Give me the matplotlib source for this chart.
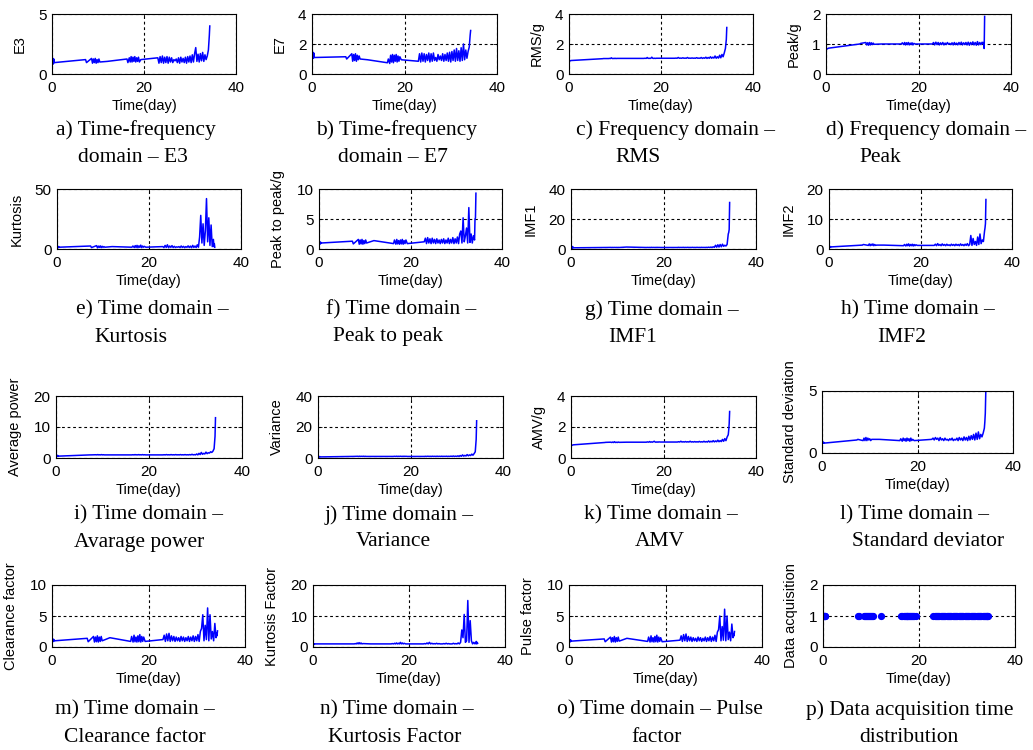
import numpy as np
import matplotlib
matplotlib.use("Agg")
import matplotlib.pyplot as plt

# -----------------------------
# Données
# -----------------------------
# instants d'acquisition (jours) : 6 + 12 + 1 + 15 + 44 + 4 points
t_day = [0.0, 0.1, 0.2, 0.3, 0.4, 0.5,
         7.3, 7.5, 8.6, 8.8, 9.0, 9.2, 9.4, 9.6, 9.8, 10.0, 10.2, 10.4,
         12.0,
         16.3, 16.5, 16.8, 17.0, 17.2, 17.4, 17.6, 17.8, 18.0, 18.2, 18.4, 18.6, 18.8, 19.0, 19.3,
         23.0, 23.25, 23.5, 23.75, 24.0, 24.25, 24.5, 24.75, 25.0, 25.25, 25.5, 25.75,
         26.0, 26.25, 26.5, 26.75, 27.0, 27.25, 27.5, 27.75, 28.0, 28.25, 28.5, 28.75,
         29.0, 29.25, 29.5, 29.75, 30.0, 30.25, 30.5, 30.75, 31.0, 31.25, 31.5, 31.75,
         32.0, 32.25, 32.5, 32.75, 33.0, 33.25, 33.5, 33.75,
         34.0, 34.1, 34.2, 34.3]

e3 = [1.2, 0.8, 1.3, 0.85, 1.25, 0.95,
      1.2, 0.95, 1.3, 0.9, 1.25, 0.95, 1.3, 0.9, 1.2, 0.95, 1.25, 1.0,
      1.05,
      1.25, 0.95, 1.35, 1.0, 1.45, 1.0, 1.4, 1.05, 1.45, 1.0, 1.35, 1.05, 1.4, 1.0, 1.2,
      1.35, 0.9, 1.45, 0.95, 1.5, 0.9, 1.4, 0.95, 1.45, 0.9, 1.4, 1.0, 1.35, 0.95, 1.2, 1.1,
      1.25, 0.95, 1.35, 0.9, 1.4, 1.0, 1.3, 0.95, 1.4, 0.9, 1.45, 1.0, 1.5, 0.95, 1.6, 1.0,
      1.7, 2.2, 1.05, 1.65, 1.0, 1.7, 1.1, 1.8, 1.05, 1.6, 1.2, 1.5,
      2.0, 2.6, 3.2, 4.0]

e7 = [1.5, 1.0, 1.45, 1.05, 1.4, 1.1,
      1.15, 1.0, 1.35, 0.85, 1.3, 0.9, 1.35, 0.85, 1.25, 0.95, 1.2, 1.0,
      0.95,
      0.75, 1.0, 0.7, 1.25, 0.8, 1.3, 0.75, 1.25, 0.85, 1.3, 0.8, 1.2, 0.85, 1.15, 0.95,
      0.85, 1.35, 0.8, 1.4, 0.85, 1.35, 0.8, 1.3, 0.9, 1.4, 0.8, 1.35, 0.85, 1.4, 0.9, 1.1,
      0.85, 1.3, 0.95, 1.2, 0.9, 1.35, 0.85, 1.3, 0.9, 1.4, 0.85, 1.45, 0.8, 1.5, 0.9, 1.6,
      0.85, 1.7, 0.9, 1.55, 0.85, 1.75, 0.9, 2.0, 0.95, 1.6, 1.05, 1.5,
      1.8, 2.2, 2.6, 2.9]

rms = [0.85, 0.86, 0.87, 0.88, 0.9, 0.9,
       1.02, 1.03, 1.03, 1.04, 1.03, 1.08, 1.03, 1.04, 1.03, 1.05, 1.03, 1.04,
       1.04,
       1.04, 1.05, 1.04, 1.1, 1.04, 1.05, 1.04, 1.05, 1.12, 1.05, 1.04, 1.05, 1.04, 1.05, 1.05,
       1.05, 1.06, 1.05, 1.1, 1.05, 1.06, 1.05, 1.08, 1.05, 1.06, 1.05, 1.1, 1.05, 1.06, 1.05, 1.07,
       1.05, 1.06, 1.05, 1.09, 1.05, 1.06, 1.05, 1.1, 1.04, 1.08, 1.05, 1.12, 1.04, 1.1, 1.05, 1.15,
       1.05, 1.12, 1.06, 1.2, 1.05, 1.15, 1.06, 1.25, 1.08, 1.3, 1.15, 1.4,
       1.7, 2.0, 2.3, 3.1]

peak = [0.8, 0.82, 0.83, 0.84, 0.85, 0.86,
        1.0, 1.02, 1.05, 0.97, 1.04, 0.96, 1.05, 0.97, 1.04, 0.98, 1.03, 0.99,
        1.0,
        1.0, 1.04, 0.98, 1.05, 0.97, 1.04, 0.98, 1.05, 0.97, 1.03, 0.98, 1.04, 0.97, 1.02, 1.0,
        1.0, 1.05, 0.97, 1.06, 0.98, 1.05, 0.97, 1.04, 0.98, 1.05, 0.97, 1.03, 0.98, 1.05, 0.99, 1.02,
        0.98, 1.04, 0.97, 1.05, 0.98, 1.03, 0.97, 1.05, 0.98, 1.06, 0.97, 1.04, 0.98, 1.05, 0.97, 1.06,
        0.96, 1.05, 0.98, 1.07, 0.97, 1.05, 0.96, 1.08, 0.97, 1.05, 0.98, 1.06,
        1.0, 1.05, 0.85, 1.92]

kurtosis = [2.5, 1.0, 2.2, 1.2, 2.0, 1.5,
            2.5, 1.2, 2.8, 1.0, 2.4, 1.3, 2.6, 1.1, 2.3, 1.4, 2.0, 1.5,
            2.0,
            1.5, 2.5, 1.2, 2.8, 1.3, 3.0, 1.1, 2.6, 1.4, 3.2, 1.2, 2.5, 1.5, 2.2, 1.5,
            2.0, 1.2, 3.0, 1.3, 3.5, 1.1, 2.5, 1.4, 2.8, 1.2, 2.2, 1.3, 1.8, 1.5, 2.0, 1.2,
            2.5, 1.3, 2.2, 1.1, 2.0, 1.4, 2.6, 1.2, 2.4, 1.1, 3.0, 1.3, 2.5, 1.2, 3.5, 1.5,
            10.0, 28.0, 5.0, 21.0, 3.0, 15.0, 42.0, 6.0, 26.0, 3.0, 20.0, 2.0,
            8.0, 2.0, 4.5, 1.5]

p2p = [1.3, 0.8, 1.2, 0.85, 1.1, 1.0,
       1.3, 0.85, 1.6, 0.8, 1.5, 0.85, 1.6, 0.8, 1.4, 0.9, 1.5, 1.0,
       1.4,
       0.9, 1.5, 0.8, 1.6, 0.85, 1.4, 0.8, 1.5, 0.85, 1.6, 0.8, 1.4, 0.9, 1.5, 0.9,
       1.2, 1.8, 0.9, 1.9, 1.0, 1.7, 0.9, 1.8, 1.0, 1.6, 0.9, 1.7, 1.0, 1.5, 0.9, 1.6,
       1.0, 1.7, 0.9, 1.5, 1.0, 1.8, 0.9, 1.6, 1.0, 1.9, 0.9, 1.7, 1.0, 2.0, 0.9, 2.5,
       3.0, 1.0, 5.2, 1.2, 2.2, 3.5, 1.0, 6.9, 1.1, 2.5, 1.0, 2.2,
       1.5, 5.0, 5.2, 9.3]

imf1 = [2.0, 0.5, 1.8, 0.6, 1.5, 0.8,
        1.0, 1.0, 1.05, 1.0, 1.05, 1.0, 1.05, 1.0, 1.05, 1.0, 1.05, 1.0,
        1.3,
        1.0, 1.05, 1.0, 1.05, 1.0, 1.1, 1.0, 1.05, 1.0, 1.05, 1.0, 1.1, 1.0, 1.05, 1.0,
        1.0, 1.1, 1.0, 1.05, 1.0, 1.1, 1.0, 1.05, 1.0, 1.1, 1.0, 1.05, 1.0, 1.1, 1.0, 1.05,
        1.0, 1.1, 1.0, 1.05, 1.0, 1.1, 1.0, 1.05, 1.0, 1.1, 1.0, 1.2, 1.0, 1.3, 1.0, 1.5,
        1.1, 2.5, 1.2, 2.8, 1.3, 3.0, 1.5, 3.2, 1.8, 2.5, 2.0, 3.0,
        10.0, 11.0, 13.0, 31.0]

imf2 = [0.9, 0.5, 0.85, 0.6, 0.8, 0.7,
        1.3, 1.5, 1.2, 1.7, 1.1, 1.6, 1.2, 1.7, 1.1, 1.5, 1.2, 1.3,
        1.3,
        1.1, 1.5, 1.0, 1.6, 1.1, 1.7, 1.0, 1.5, 1.1, 1.6, 1.0, 1.5, 1.1, 1.4, 1.2,
        1.2, 1.6, 1.1, 1.8, 1.2, 1.5, 1.1, 1.7, 1.2, 1.5, 1.1, 1.6, 1.2, 1.4, 1.1, 1.6,
        1.2, 1.5, 1.1, 1.6, 1.2, 1.5, 1.1, 1.7, 1.2, 1.5, 1.1, 1.6, 1.2, 1.8, 1.1, 1.5,
        4.5, 1.2, 3.5, 1.5, 2.5, 1.2, 4.0, 1.5, 5.0, 1.8, 3.0, 2.5,
        6.0, 7.0, 8.5, 16.5]

avg_power = [1.0, 0.5, 0.9, 0.55, 0.8, 0.6,
             1.0, 1.0, 1.05, 1.0, 1.1, 1.0, 1.05, 1.0, 1.1, 1.0, 1.05, 1.0,
             1.0,
             1.0, 1.05, 1.0, 1.1, 1.0, 1.05, 1.0, 1.1, 1.0, 1.05, 1.0, 1.1, 1.0, 1.05, 1.0,
             1.0, 1.05, 1.0, 1.1, 1.0, 1.05, 1.0, 1.1, 1.0, 1.05, 1.0, 1.1, 1.0, 1.05, 1.0, 1.1,
             1.0, 1.05, 1.0, 1.1, 1.0, 1.05, 1.0, 1.1, 1.0, 1.2, 1.0, 1.1, 1.0, 1.3, 1.0, 1.5,
             1.1, 1.8, 1.2, 1.5, 1.3, 1.9, 1.4, 1.7, 1.6, 2.0, 1.8, 2.2,
             3.0, 5.0, 7.0, 13.0]

variance = [1.2, 0.6, 1.0, 0.7, 0.9, 0.7,
            1.0, 1.0, 1.1, 1.0, 1.15, 1.0, 1.1, 1.0, 1.15, 1.0, 1.1, 1.0,
            1.0,
            1.0, 1.1, 1.0, 1.15, 1.0, 1.1, 1.0, 1.15, 1.0, 1.1, 1.0, 1.15, 1.0, 1.1, 1.0,
            1.0, 1.1, 1.0, 1.15, 1.0, 1.1, 1.0, 1.15, 1.0, 1.1, 1.0, 1.15, 1.0, 1.1, 1.0, 1.15,
            1.0, 1.1, 1.0, 1.15, 1.0, 1.1, 1.0, 1.2, 1.0, 1.3, 1.0, 1.2, 1.0, 1.4, 1.0, 1.6,
            1.1, 2.0, 1.2, 1.7, 1.3, 2.2, 1.4, 2.0, 1.6, 2.5, 1.8, 2.8,
            4.0, 8.0, 12.0, 24.0]

amv = [0.8, 0.81, 0.82, 0.83, 0.84, 0.85,
       1.0, 1.01, 1.02, 1.0, 1.03, 1.0, 1.05, 1.0, 1.02, 1.0, 1.03, 1.01,
       1.02,
       1.02, 1.04, 1.02, 1.06, 1.02, 1.04, 1.02, 1.05, 1.08, 1.03, 1.02, 1.04, 1.02, 1.04, 1.03,
       1.03, 1.05, 1.03, 1.08, 1.03, 1.05, 1.03, 1.06, 1.03, 1.05, 1.03, 1.08, 1.03, 1.05, 1.03, 1.06,
       1.03, 1.05, 1.03, 1.07, 1.03, 1.05, 1.03, 1.08, 1.03, 1.06, 1.03, 1.1, 1.03, 1.08, 1.04, 1.12,
       1.04, 1.1, 1.05, 1.15, 1.05, 1.12, 1.06, 1.2, 1.08, 1.25, 1.12, 1.35,
       1.5, 1.8, 2.2, 3.0]

std_dev = [0.95, 0.8, 0.9, 0.8, 0.85, 0.8,
           1.05, 1.1, 1.0, 1.2, 1.0, 1.25, 1.0, 1.2, 1.05, 1.15, 1.0, 1.1,
           1.1,
           1.0, 1.15, 0.95, 1.2, 1.0, 1.15, 0.95, 1.2, 1.0, 1.15, 0.95, 1.2, 1.0, 1.1, 1.0,
           1.1, 1.2, 1.05, 1.25, 1.1, 1.2, 1.0, 1.25, 1.05, 1.15, 1.0, 1.2, 1.05, 1.1, 1.0, 1.15,
           1.05, 1.2, 1.0, 1.1, 1.05, 1.2, 1.0, 1.25, 1.05, 1.2, 1.0, 1.3, 1.05, 1.25, 1.0, 1.35,
           1.05, 1.4, 1.1, 1.5, 1.05, 1.6, 1.1, 1.7, 1.15, 1.5, 1.3, 1.6,
           2.0, 2.5, 3.2, 4.9]

clearance = [1.4, 0.8, 1.3, 0.9, 1.2, 1.0,
             1.4, 0.85, 1.7, 0.8, 1.6, 0.85, 1.8, 0.8, 1.6, 0.9, 1.7, 1.0,
             1.5,
             0.9, 1.7, 0.8, 1.9, 0.85, 1.6, 0.8, 1.8, 0.85, 2.0, 0.8, 1.7, 0.9, 1.6, 0.9,
             1.2, 1.9, 0.9, 2.1, 1.0, 2.2, 0.9, 1.8, 1.0, 1.7, 0.9, 1.6, 1.0, 1.5, 0.9, 1.7,
             1.0, 1.6, 0.9, 1.5, 1.0, 1.7, 0.9, 1.6, 1.0, 1.8, 0.9, 1.7, 1.0, 2.0, 0.9, 2.5,
             3.0, 5.2, 1.0, 3.5, 1.2, 6.3, 1.0, 5.2, 1.3, 2.5, 1.0, 3.8,
             1.5, 2.2, 1.8, 2.6]

kurt_factor = [1.2, 0.9, 1.1, 0.9, 1.0, 1.0,
               1.0, 1.0, 1.0, 1.1, 1.0, 1.3, 1.0, 1.4, 1.0, 1.3, 1.0, 1.1,
               1.0,
               1.0, 1.1, 1.0, 1.2, 1.0, 1.3, 1.0, 1.2, 1.0, 1.5, 1.0, 1.3, 1.0, 1.2, 1.0,
               1.0, 1.1, 1.0, 1.3, 1.0, 1.5, 1.0, 1.2, 1.0, 1.1, 1.0, 1.2, 1.0, 1.1, 1.0, 1.0,
               1.0, 1.1, 1.0, 1.2, 1.0, 1.1, 1.0, 1.0, 1.0, 1.2, 1.0, 1.1, 1.0, 1.3, 1.0, 1.5,
               5.5, 3.0, 10.5, 1.5, 2.0, 15.0, 1.5, 8.5, 2.0, 1.0, 1.5, 1.0,
               1.8, 1.0, 1.5, 1.2]

pulse = [1.3, 0.8, 1.2, 0.85, 1.1, 0.95,
         1.3, 0.85, 1.6, 0.8, 1.5, 0.85, 1.7, 0.8, 1.5, 0.9, 1.6, 0.95,
         1.4,
         0.9, 1.6, 0.8, 1.8, 0.85, 1.5, 0.8, 1.7, 0.85, 1.9, 0.8, 1.6, 0.9, 1.5, 0.85,
         1.1, 1.8, 0.9, 2.0, 1.0, 2.1, 0.9, 1.7, 1.0, 1.6, 0.9, 1.5, 1.0, 1.4, 0.9, 1.6,
         1.0, 1.5, 0.9, 1.4, 1.0, 1.6, 0.9, 1.5, 1.0, 1.7, 0.9, 1.6, 1.0, 1.9, 0.9, 2.4,
         2.8, 5.0, 1.0, 3.3, 1.1, 6.1, 1.0, 5.0, 1.2, 2.4, 1.0, 3.7,
         1.5, 2.0, 1.8, 2.5]

acq_flag = 1  # une acquisition = 1

# -----------------------------
# Mise en page (pixels : gauche, haut, droite, bas)
# -----------------------------
W, H = 1033, 750
panels = [
    # (serie, ylabel, ymax, boite, legende ligne 1, ligne 2, x1, x2)
    (e3, "E3", 5, (52, 14, 236, 74), "a) Time-frequency", "domain – E3", 136, 133),
    (e7, "E7", 4, (312, 14, 497, 74), "b) Time-frequency", "domain – E7", 397, 393),
    (rms, "RMS/g", 4, (569, 14, 753, 74), "c) Frequency domain –", "RMS", 675, 638),
    (peak, "Peak/g", 2, (826, 14, 1011, 74), "d) Frequency domain –", "Peak", 926, 880),
    (kurtosis, "Kurtosis", 50, (57, 189, 241, 249), "e) Time domain –", "Kurtosis", 152, 131),
    (p2p, "Peak to peak/g", 10, (319, 189, 502, 249), "f) Time domain –", "Peak to peak", 401, 388),
    (imf1, "IMF1", 40, (571, 189, 756, 249), "g) Time domain –", "IMF1", 662, 633),
    (imf2, "IMF2", 20, (829, 189, 1012, 249), "h) Time domain –", "IMF2", 918, 902),
    (avg_power, "Average power", 20, (56, 396, 242, 458), "i) Time domain –", "Avarage power", 148, 139),
    (variance, "Variance", 40, (318, 396, 503, 458), "j) Time domain –", "Variance", 399, 393),
    (amv, "AMV/g", 4, (571, 396, 756, 458), "k) Time domain –", "AMV", 661, 660),
    (std_dev, "Standard deviation", 5, (822, 391, 1013, 453), "l) Time domain –", "Standard deviator", 915, 928),
    (clearance, "Clearance factor", 10, (52, 585, 245, 647), "m) Time domain –", "Clearance factor", 135, 135),
    (kurt_factor, "Kurtosis Factor", 20, (313, 585, 505, 647), "n) Time domain –", "Kurtosis Factor", 397, 395),
    (pulse, "Pulse factor", 10, (569, 585, 762, 647), "o) Time domain – Pulse", "factor", 660, 657),
    (None, "Data acquisition", 2, (823, 585, 1015, 647), "p) Data acquisition time", "distribution", 910, 909),
]
caption_rows = {14: (130, 157), 189: (310, 337), 396: (515, 542), 391: (515, 542), 585: (710, 737)}

plt.rcParams['font.family'] = ['Liberation Sans', 'DejaVu Sans']
fig = plt.figure(figsize=(W / 100, H / 100), dpi=100)
fig.patch.set_facecolor("white")

for serie, ylab, ymax, box, cap1, cap2, cx1, cx2 in panels:
    l, t, r, b = box
    ax = fig.add_axes([l / W, 1 - b / H, (r - l) / W, (b - t) / H])
    if serie is None:
        ax.plot(t_day, np.full(len(t_day), acq_flag), "o", color="#0000ff",
                markersize=4.2, zorder=3)
    else:
        ax.plot(t_day, serie, color="#0000ff", linewidth=1.1, zorder=3)
    ax.set_xlim(0, 40)
    ax.set_ylim(0, ymax)
    ax.set_xticks([0, 20, 40])
    ax.set_yticks([0, ymax / 2, ymax] if ymax not in (5, 50) else [0, ymax])
    ax.yaxis.set_major_formatter(matplotlib.ticker.FormatStrFormatter("%g"))
    ax.grid(True, color="black", linestyle=(0, (2.5, 2.5)), linewidth=0.8)
    ax.tick_params(direction="in", length=3, width=0.6, labelsize=11, pad=5,
                   top=True, right=True)
    ax.tick_params(axis="y", pad=4)
    for sp in ax.spines.values():
        sp.set_linewidth(0.8)
        sp.set_zorder(4)
    ax.set_xlabel("Time(day)", fontsize=10.5, labelpad=3)
    ax.set_ylabel(ylab, fontsize=10.5, labelpad=8)

    y1, y2 = caption_rows[t]
    fig.text(cx1 / W, 1 - y1 / H, cap1, ha="center", va="center",
             family=["Liberation Serif", "DejaVu Serif"], fontsize=15.5)
    fig.text(cx2 / W, 1 - y2 / H, cap2, ha="center", va="center",
             family=["Liberation Serif", "DejaVu Serif"], fontsize=15.5)

fig.savefig("out.png", dpi=100, facecolor="white")
